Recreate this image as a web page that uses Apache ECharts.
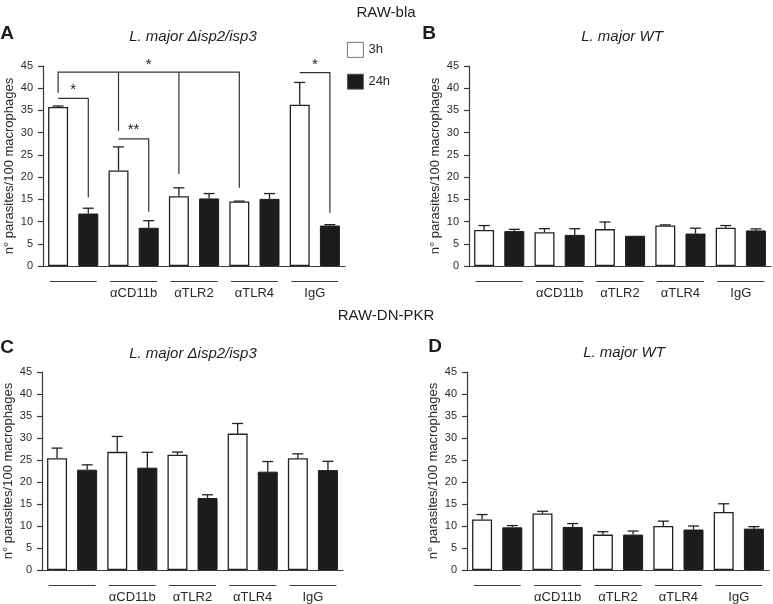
<!DOCTYPE html>
<html lang="en">

<head>
    <title>RAW-bla / RAW-DN-PKR</title>
    <meta charset="UTF-8">
    <script src="https://cdn.jsdelivr.net/npm/echarts@6/dist/echarts.min.js"></script>
    <style>
        html, body { margin: 0; padding: 0; background: #fff; }
        #chart { width: 773px; height: 604px; }
    </style>
</head>

<body>
    <div id="chart"></div>

    <script>
        // bar slots: 3h / 24h for each treatment
        var slots = ['ctl-3h', 'ctl-24h', 'cd11b-3h', 'cd11b-24h', 'tlr2-3h', 'tlr2-24h', 'tlr4-3h', 'tlr4-24h', 'igg-3h', 'igg-24h'];
        var groups = ['', 'αCD11b', 'αTLR2', 'αTLR4', 'IgG'];
        var yTicks = [0, 5, 10, 15, 20, 25, 30, 35, 40, 45];

        // A: RAW-bla, L. major isp2/isp3
        var a3h = [35.8, 21.5, 15.7, 14.5, 36.3];
        var a3hErr = [0.2, 5.3, 1.9, 0.1, 5.0];
        var a24h = [11.8, 8.6, 15.2, 15.1, 9.1];
        var a24hErr = [1.2, 1.6, 1.1, 1.2, 0.2];
        // B: RAW-bla, L. major WT
        var b3h = [8.1, 7.6, 8.3, 9.1, 8.6];
        var b3hErr = [1.0, 0.8, 1.6, 0.15, 0.5];
        var b24h = [7.85, 7.0, 6.8, 7.3, 8.0];
        var b24hErr = [0.4, 1.4, 0, 1.2, 0.35];
        // C: RAW-DN-PKR, L. major isp2/isp3
        var c3h = [25.4, 26.85, 26.2, 31.0, 25.4];
        var c3hErr = [2.3, 3.5, 0.6, 2.3, 1.0];
        var c24h = [22.8, 23.25, 16.35, 22.35, 22.7];
        var c24hErr = [1.1, 3.5, 0.75, 2.3, 2.0];
        // D: RAW-DN-PKR, L. major WT
        var d3h = [11.5, 12.85, 8.05, 10.0, 13.2];
        var d3hErr = [1.1, 0.5, 0.65, 1.1, 1.85];
        var d24h = [9.7, 9.8, 8.05, 9.2, 9.4];
        var d24hErr = [0.4, 0.75, 0.8, 0.8, 0.45];

        // significance brackets in panel A: [slot, value] points
        var sigLines = [
            [[0, 38.9], [0, 43.6], [6, 43.6], [6, 17.6]],
            [[2, 43.6], [2, 30.4]],
            [[4, 43.6], [4, 20.7]],
            [[0, 37.7], [1, 37.7], [1, 15.4]],
            [[2, 28.6], [3, 28.6], [3, 12.2]],
            [[8, 43.5], [9, 43.5], [9, 12.0]]
        ];
        // [from slot, to slot, value, text]
        var sigStars = [
            [0, 6, 45.3, '*'],
            [0, 1, 39.6, '*'],
            [2, 3, 30.6, '**'],
            [8, 9, 45.3, '*']
        ];

        var FONT = 'Arial, "Liberation Sans", sans-serif';
        var INK = '#2a2a2a';
        var AXIS = '#3a3a3a';

        var panels = [
            { v3: a3h, e3: a3hErr, v24: a24h, e24: a24hErr, left: 43, top: 66, width: 302 },
            { v3: b3h, e3: b3hErr, v24: b24h, e24: b24hErr, left: 469, top: 66, width: 302 },
            { v3: c3h, e3: c3hErr, v24: c24h, e24: c24hErr, left: 42, top: 372, width: 301 },
            { v3: d3h, e3: d3hErr, v24: d24h, e24: d24hErr, left: 467, top: 372, width: 302 }
        ];

        var grids = [], xAxes = [], yAxes = [], series = [];

        panels.forEach(function (p, k) {
            grids.push({ left: p.left, top: p.top, width: p.width, height: 200 });

            xAxes.push({
                type: 'category', gridIndex: k, data: slots, boundaryGap: true,
                axisLine: { lineStyle: { color: AXIS, width: 1.2 } },
                axisTick: { alignWithLabel: true, length: 5, lineStyle: { color: AXIS, width: 1.2 } },
                axisLabel: { show: false }
            });
            // treatment labels with underline bar above them
            xAxes.push({
                type: 'category', gridIndex: k, data: groups, position: 'bottom',
                axisLine: { show: false }, axisTick: { show: false },
                axisLabel: {
                    margin: 15, interval: 0,
                    formatter: function (v) { return '{u|}\n{t|' + (v || ' ') + '}'; },
                    rich: {
                        u: { width: 47, height: 1, lineHeight: 1, backgroundColor: AXIS },
                        t: { fontSize: 13, lineHeight: 23, color: INK, fontFamily: FONT }
                    }
                }
            });
            yAxes.push({
                type: 'value', gridIndex: k, min: 0, max: 45, interval: 5,
                name: 'n° parasites/100 macrophages', nameLocation: 'middle', nameGap: 27,
                nameTextStyle: { fontSize: 13, color: INK, fontFamily: FONT },
                splitLine: { show: false },
                axisLine: { show: true, lineStyle: { color: AXIS, width: 1.2 } },
                axisTick: { show: true, length: 5, lineStyle: { color: AXIS, width: 1.2 } },
                axisLabel: { fontSize: 11, color: INK, margin: 10, fontFamily: FONT,
                    formatter: function (v) { return yTicks.indexOf(v) >= 0 ? String(v) : ''; } }
            });

            var d3 = [], d24 = [], errs = [];
            for (var i = 0; i < groups.length; i++) {
                d3.push(p.v3[i], '-');
                d24.push('-', p.v24[i]);
                errs.push([2 * i, p.v3[i], p.e3[i]], [2 * i + 1, p.v24[i], p.e24[i]]);
            }
            series.push({
                name: '3h', type: 'bar', xAxisIndex: 2 * k, yAxisIndex: k, data: d3,
                barWidth: 20, barGap: '-100%',
                itemStyle: { color: '#ffffff', borderColor: '#222', borderWidth: 1.3 }
            });
            series.push({
                name: '24h', type: 'bar', xAxisIndex: 2 * k, yAxisIndex: k, data: d24,
                barWidth: 20, barGap: '-100%',
                itemStyle: { color: '#1c1c1c', borderColor: '#1c1c1c', borderWidth: 1 }
            });
            series.push({
                type: 'custom', xAxisIndex: 2 * k, yAxisIndex: k, data: errs, clip: false, z: 3,
                renderItem: function (params, api) {
                    var x = api.value(0), v = api.value(1), e = api.value(2);
                    if (!(e > 0)) return null;
                    var p0 = api.coord([x, v]);
                    var p1 = api.coord([x, v + e]);
                    var st = { stroke: '#222', lineWidth: 1.3 };
                    return {
                        type: 'group', children: [
                            { type: 'line', shape: { x1: p0[0], y1: p0[1], x2: p1[0], y2: p1[1] }, style: st },
                            { type: 'line', shape: { x1: p1[0] - 5.5, y1: p1[1], x2: p1[0] + 5.5, y2: p1[1] }, style: st }
                        ]
                    };
                }
            });
        });

        // significance brackets (panel A)
        series.push({
            type: 'custom', xAxisIndex: 0, yAxisIndex: 0, clip: false, z: 4,
            data: sigLines.map(function (l, i) { return [0, 0, i]; }),
            renderItem: function (params, api) {
                var pts = sigLines[params.dataIndex].map(function (q) { return api.coord(q); });
                return { type: 'polyline', shape: { points: pts }, style: { stroke: '#333', lineWidth: 1.2, fill: null } };
            }
        });
        series.push({
            type: 'custom', xAxisIndex: 0, yAxisIndex: 0, clip: false, z: 4,
            data: sigStars.map(function (s, i) { return [0, 0, i]; }),
            renderItem: function (params, api) {
                var s = sigStars[params.dataIndex];
                var a = api.coord([s[0], s[2]]), b = api.coord([s[1], s[2]]);
                return {
                    type: 'text',
                    style: { x: (a[0] + b[0]) / 2, y: a[1], text: s[3], fill: '#222', font: '15px ' + FONT, align: 'center', verticalAlign: 'middle' }
                };
            }
        });

        var titles = [
            { text: 'RAW-bla', left: 386, top: 5, textStyle: { fontSize: 15 } },
            { text: 'RAW-DN-PKR', left: 386, top: 308, textStyle: { fontSize: 15 } },
            { text: 'L. major Δisp2/isp3', left: 193, top: 29, textStyle: { fontSize: 15, fontStyle: 'italic' } },
            { text: 'L. major WT', left: 622, top: 29, textStyle: { fontSize: 15, fontStyle: 'italic' } },
            { text: 'L. major Δisp2/isp3', left: 193, top: 346, textStyle: { fontSize: 15, fontStyle: 'italic' } },
            { text: 'L. major WT', left: 624, top: 345, textStyle: { fontSize: 15, fontStyle: 'italic' } },
            { text: 'A', left: 7, top: 24, textStyle: { fontSize: 19, fontWeight: 'bold' } },
            { text: 'B', left: 429, top: 24, textStyle: { fontSize: 19, fontWeight: 'bold' } },
            { text: 'C', left: 7, top: 338, textStyle: { fontSize: 19, fontWeight: 'bold' } },
            { text: 'D', left: 435, top: 337, textStyle: { fontSize: 19, fontWeight: 'bold' } }
        ].map(function (t) {
            t.textAlign = 'center';
            t.padding = 0;
            t.textStyle.color = '#1e1e1e';
            t.textStyle.fontFamily = FONT;
            if (!t.textStyle.fontWeight) t.textStyle.fontWeight = 'normal';
            return t;
        });

        var myChart = echarts.init(document.getElementById('chart'), null, { renderer: 'canvas' });
        myChart.setOption({
            animation: false,
            backgroundColor: '#ffffff',
            textStyle: { fontFamily: FONT },
            title: titles,
            legend: {
                data: ['3h', '24h'], orient: 'vertical', left: 347, top: 42, padding: 0,
                icon: 'rect', itemWidth: 16, itemHeight: 15, itemGap: 16,
                itemStyle: { borderWidth: 0.8, borderColor: '#555' },
                textStyle: { fontSize: 13, color: INK, fontFamily: FONT },
                selectedMode: false
            },
            grid: grids,
            xAxis: xAxes,
            yAxis: yAxes,
            series: series
        });
    </script>
</body>

</html>
